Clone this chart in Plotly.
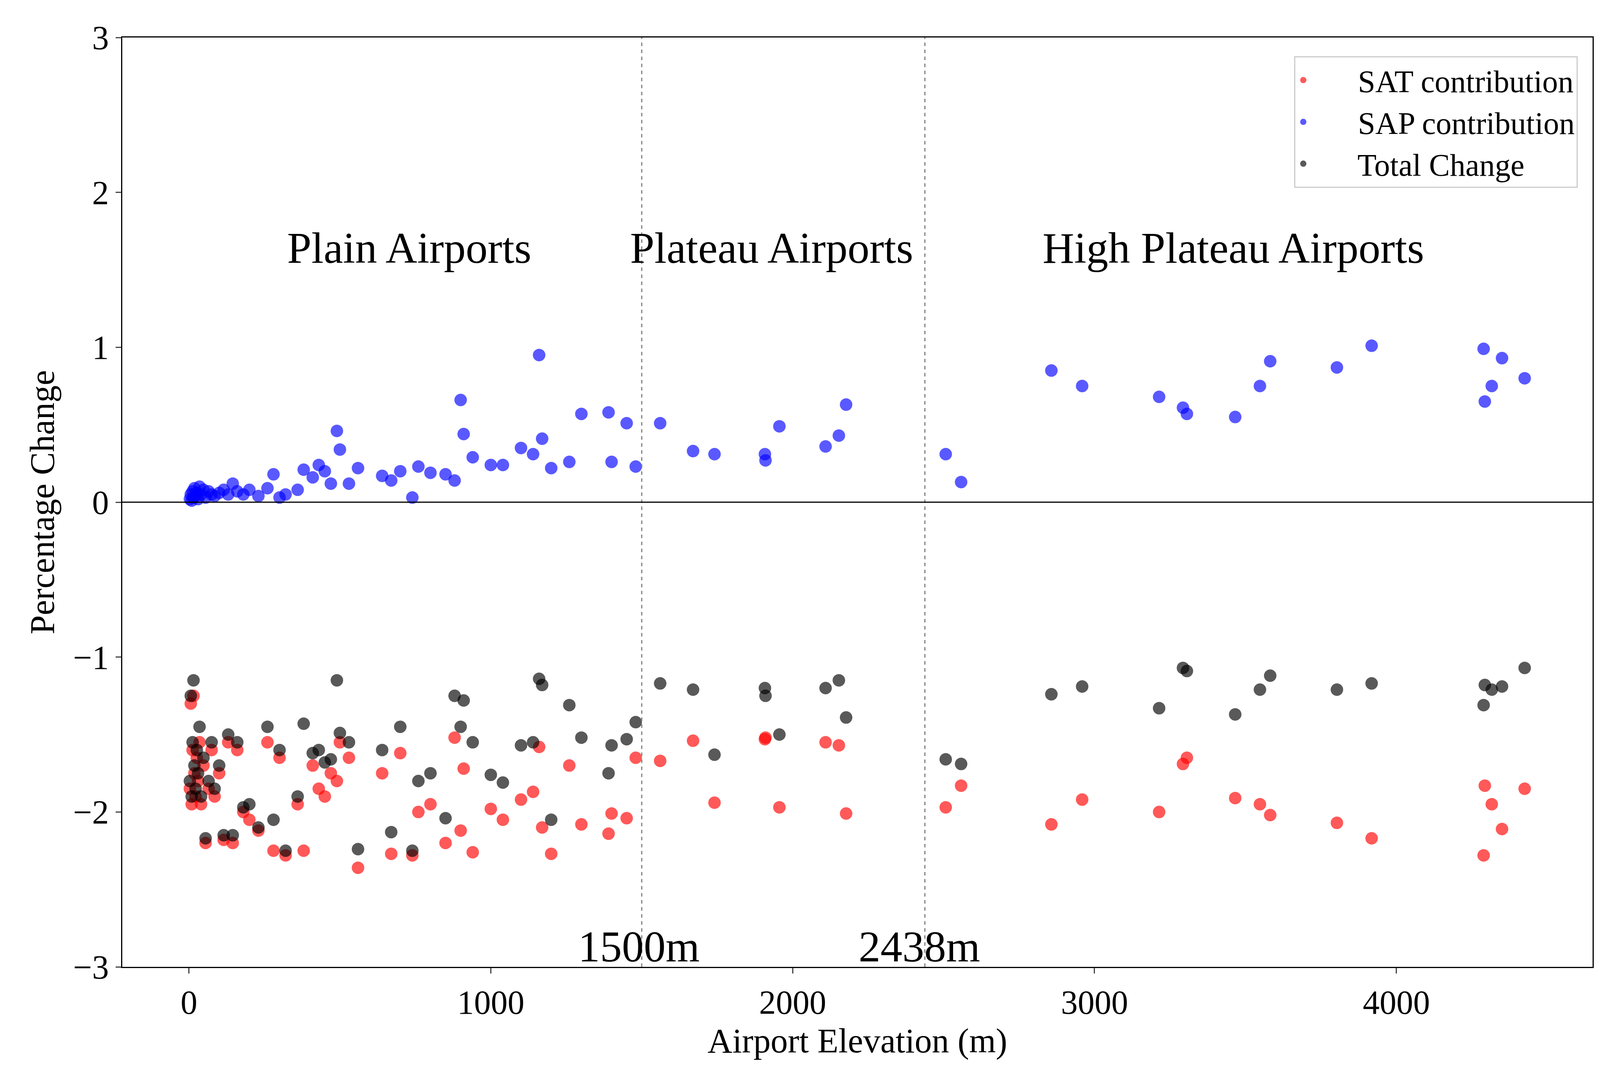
import plotly.graph_objects as go

elev = [3,6,9,12,15,18,22,26,30,35,40,48,55,65,75,85,100,115,130,145,160,180,200,230,260,280,300,320,360,380,410,430,450,470,490,500,530,560,640,670,700,740,760,800,850,880,900,910,940,1000,1040,1100,1140,1160,1170,1200,1260,1300,1390,1400,1450,1480,
        1561,1670,1741,1908,1910,1956,2109,2153,2177,2507,2558,
        2857,2959,3214,3293,3306,3466,3548,3582,3803,3918,4289,4293,4316,4350,4425]
sap = [0.02,0.05,0.01,0.07,0.03,0.09,0.04,0.06,0.02,0.10,0.05,0.08,0.03,0.07,0.05,0.04,0.06,0.08,0.05,0.12,
       0.07,0.05,0.08,0.04,0.09,0.18,0.03,0.05,0.08,0.21,0.16,0.24,0.20,0.12,0.46,0.34,0.12,0.22,0.17,0.14,
       0.20,0.03,0.23,0.19,0.18,0.14,0.66,0.44,0.29,0.24,0.24,0.35,0.31,0.95,0.41,0.22,0.26,0.57,0.58,0.26,0.51,0.23,
       0.51,0.33,0.31,0.31,0.27,0.49,0.36,0.43,0.63,0.31,0.13,
       0.85,0.75,0.68,0.61,0.57,0.55,0.75,0.91,0.87,1.01,0.99,0.65,0.75,0.93,0.80]
sat = [-1.85,-1.30,-1.95,-1.60,-1.25,-1.75,-1.90,-1.65,-1.80,-1.55,-1.95,-1.70,-2.20,-1.85,-1.60,-1.90,-1.75,-2.18,-1.55,-2.20,
       -1.60,-2.00,-2.05,-2.12,-1.55,-2.25,-1.65,-2.28,-1.95,-2.25,-1.70,-1.85,-1.90,-1.75,-1.80,-1.55,-1.65,-2.36,-1.75,-2.27,
       -1.62,-2.28,-2.00,-1.95,-2.20,-1.52,-2.12,-1.72,-2.26,-1.98,-2.05,-1.92,-1.87,-1.58,-2.10,-2.27,-1.70,-2.08,-2.14,-2.01,-2.04,-1.65,
       -1.67,-1.54,-1.94,-1.53,-1.52,-1.97,-1.55,-1.57,-2.01,-1.97,-1.83,
       -2.08,-1.92,-2.00,-1.69,-1.65,-1.91,-1.95,-2.02,-2.07,-2.17,-2.28,-1.83,-1.95,-2.11,-1.85]
total = [-1.80,-1.25,-1.90,-1.55,-1.15,-1.70,-1.85,-1.60,-1.75,-1.45,-1.90,-1.65,-2.17,-1.80,-1.55,-1.85,-1.70,-2.15,-1.50,-2.15,
         -1.55,-1.97,-1.95,-2.10,-1.45,-2.05,-1.60,-2.25,-1.90,-1.43,-1.62,-1.60,-1.68,-1.66,-1.15,-1.49,-1.55,-2.24,-1.60,-2.13,
         -1.45,-2.25,-1.80,-1.75,-2.04,-1.25,-1.45,-1.28,-1.55,-1.76,-1.81,-1.57,-1.55,-1.14,-1.18,-2.05,-1.31,-1.52,-1.75,-1.57,-1.53,-1.42,
         -1.17,-1.21,-1.63,-1.20,-1.25,-1.50,-1.20,-1.15,-1.39,-1.66,-1.69,
         -1.24,-1.19,-1.33,-1.07,-1.09,-1.37,-1.21,-1.12,-1.21,-1.17,-1.31,-1.18,-1.21,-1.19,-1.07]

F = "Liberation Serif"
fig = go.Figure()
for name, ys, col in [("SAT contribution", sat, "red"), ("SAP contribution", sap, "blue"), ("Total Change", total, "black")]:
    fig.add_trace(go.Scatter(x=elev, y=ys, mode="markers", name="      " + name,
                             marker=dict(color=col, size=32, opacity=0.65, line=dict(width=0))))

fig.add_vline(x=1500, line=dict(color="gray", dash="dash", width=3))
fig.add_vline(x=2438, line=dict(color="gray", dash="dash", width=3))
fig.add_hline(y=0, line=dict(color="black", width=3))

for t, x, y in [("Plain Airports", 730, 1.64), ("Plateau Airports", 1930, 1.64), ("High Plateau Airports", 3460, 1.64),
                ("1500m", 1490, -2.87), ("2438m", 2420, -2.87)]:
    fig.add_annotation(x=x, y=y, text=t, showarrow=False, font=dict(family=F, size=112, color="black"))

ax = dict(showline=True, linecolor="black", linewidth=3, mirror=True, ticks="outside", ticklen=14, tickwidth=3,
          showgrid=False, zeroline=False, tickfont=dict(family=F, size=86, color="black"))
fig.update_layout(
    width=4159, height=2758, plot_bgcolor="white", paper_bgcolor="white",
    margin=dict(l=305, r=90, t=88, b=290),
    xaxis=dict(ax, range=[-221, 4650], tickvals=[0, 1000, 2000, 3000, 4000],
               title=dict(text="Airport Elevation (m)", font=dict(family=F, size=88, color="black"), standoff=20)),
    yaxis=dict(ax, range=[-3, 3], tickvals=[-3, -2, -1, 0, 1, 2, 3], ticktext=["−3", "−2", "−1", "0", "1", "2", "3"],
               title=dict(text="Percentage Change", font=dict(family=F, size=88, color="black"), standoff=20)),
    legend=dict(x=0.99, y=0.98, xanchor="right", yanchor="top", bgcolor="white", bordercolor="#cccccc", borderwidth=3,
                font=dict(family=F, size=80, color="black"), itemsizing="trace", tracegroupgap=10),
    showlegend=True,
)
fig.write_html("out.html")
